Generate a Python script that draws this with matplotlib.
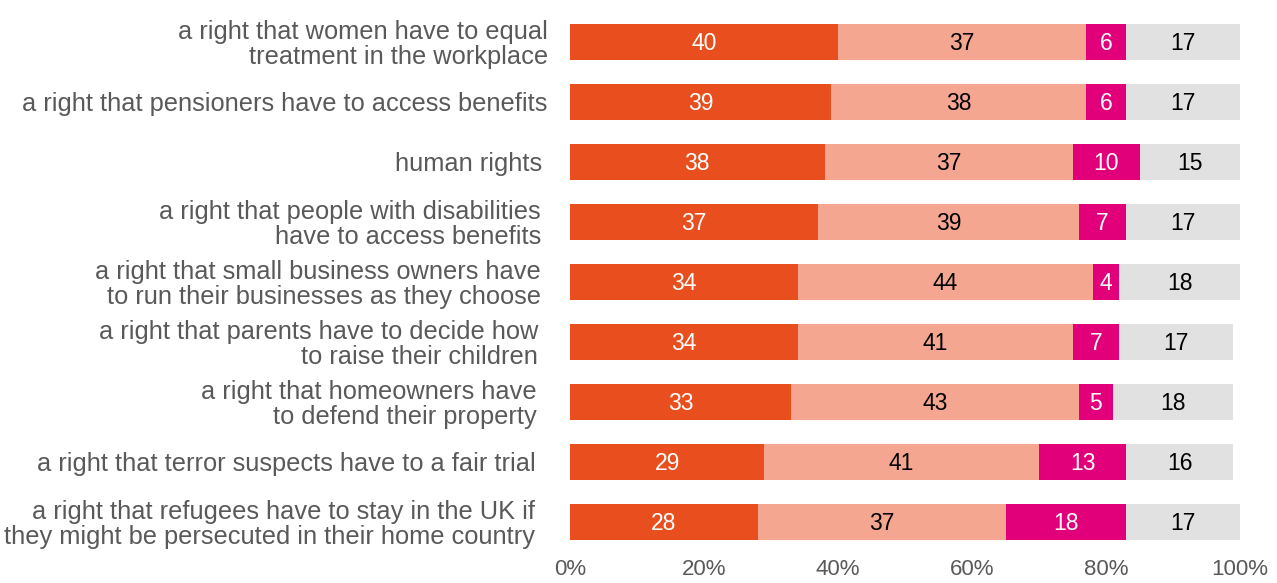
import matplotlib.pyplot as plt
import numpy as np

plt.rcParams['font.family'] = ['Liberation Sans', 'DejaVu Sans']

# ----- data -----

categories = [
    'a right that women have to equal\ntreatment in the workplace',
    'a right that pensioners have to access benefits',
    'human rights',
    'a right that people with disabilities\nhave to access benefits',
    'a right that small business owners have\nto run their businesses as they choose',
    'a right that parents have to decide how\nto raise their children',
    'a right that homeowners have\nto defend their property',
    'a right that terror suspects have to a fair trial',
    'a right that refugees have to stay in the UK if\nthey might be persecuted in their home country',
]
s1 = [40, 39, 38, 37, 34, 34, 33, 29, 28]
s2 = [37, 38, 37, 39, 44, 41, 43, 41, 37]
s3 = [6, 6, 10, 7, 4, 7, 5, 13, 18]
s4 = [17, 17, 15, 17, 18, 17, 18, 16, 17]

colors = ['#E94F1E', '#F4A690', '#E2007A', '#E1E1E1']
text_colors = ['white', 'black', 'white', 'black']
label_pad = [16, 16, 20, 21, 21, 23, 24, 25, 25]  # points

# ----- plot -----

fig = plt.figure(figsize=(12.77, 5.83), dpi=100)
ax = fig.add_axes([570 / 1277, 31 / 583, 670 / 1277, 540 / 583])

y = np.arange(len(categories))
left = np.zeros(len(categories))
for vals, col, tcol in zip([s1, s2, s3, s4], colors, text_colors):
    vals = np.array(vals)
    ax.barh(y, vals, left=left, height=0.6, color=col)
    for yi, l, v in zip(y, left, vals):
        ax.text(l + v / 2, yi + 0.03, str(v), ha='center', va='center',
                fontsize=16.5, color=tcol)
    left += vals

ax.set_xlim(0, 100)
ax.set_ylim(len(categories) - 0.5, -0.5)
ax.set_xticks(np.arange(0, 101, 20))
ax.set_xticklabels([f'{v}%' for v in range(0, 101, 20)])
ax.set_yticks(y)
ax.set_yticklabels(categories, fontsize=18.3, color='#595959',
                   multialignment='right', linespacing=1.05)
for tick, p in zip(ax.yaxis.get_major_ticks(), label_pad):
    tick.set_pad(p)
ax.tick_params(axis='x', labelsize=16, labelcolor='#595959', length=0, pad=5)
ax.tick_params(axis='y', length=0)
for sp in ax.spines.values():
    sp.set_visible(False)

fig.savefig('out.png', dpi=100)
